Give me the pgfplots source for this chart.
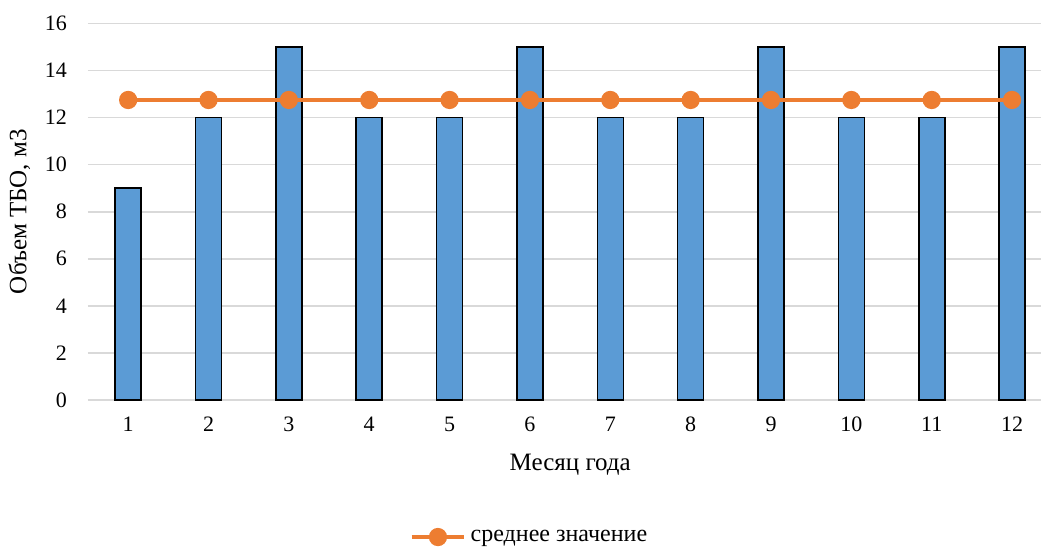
\documentclass[border=0pt]{standalone}
\usepackage{fontspec}
\setmainfont{Liberation Serif}
\usepackage{pgfplots}
\pgfplotsset{compat=1.18}
\definecolor{barblue}{HTML}{5B9BD5}
\definecolor{lineorange}{HTML}{ED7D31}
\definecolor{gridgray}{HTML}{D9D9D9}
\begin{document}
\begin{tikzpicture}
\useasboundingbox (0,0) rectangle (520.5pt,273.5pt);
\begin{axis}[
  at={(44pt,73.5pt)}, anchor=south west,
  scale only axis,
  width=476.5pt, height=188.25pt,
  xmin=0.5, xmax=12.36,
  ymin=0, ymax=16,
  xtick={1,...,12},
  ytick={0,2,...,16},
  major tick length=0pt,
  axis line style={draw=none},
  ymajorgrids,
  grid style={gridgray, line width=0.8pt},
  clip=false,
  tick label style={font=\fontsize{11}{13}\selectfont},
  /pgf/number format/assume math mode=true,
  yticklabel style={xshift=-7pt},
  xticklabel style={yshift=-5pt},
  xlabel={Месяц года},
  ylabel={Объем ТБО, м3},
  every axis x label/.style={at={(axis description cs:0.506,-0.173)}, anchor=center,
    font=\fontsize{12.5}{14}\selectfont},
  every axis y label/.style={at={(axis description cs:-0.072,0.5)}, anchor=center, rotate=90,
    font=\fontsize{12.5}{14}\selectfont},
  legend style={at={(axis description cs:0.464,-0.364)}, anchor=center, draw=none, fill=none,
    font=\fontsize{12}{14}\selectfont, inner sep=0pt},
  legend cell align=left,
  legend image code/.code={
    \draw[lineorange, line width=2.3pt] (0cm,0cm) -- (0.93cm,0cm);
    \fill[lineorange] (0.465cm,0cm) circle (3.4pt);
  },
]
\addplot[ybar, bar width=13pt, fill=barblue, draw=black, line width=0.8pt, forget plot]
  coordinates {(1,9) (2,12) (3,15) (4,12) (5,12) (6,15) (7,12) (8,12) (9,15) (10,12) (11,12) (12,15)};
\addplot[lineorange, line width=2.3pt, mark=*, mark size=3.4pt, mark options={fill=lineorange, draw=lineorange}]
  coordinates {(1,12.75) (2,12.75) (3,12.75) (4,12.75) (5,12.75) (6,12.75) (7,12.75) (8,12.75) (9,12.75) (10,12.75) (11,12.75) (12,12.75)};
\addlegendentry{среднее значение}
\end{axis}
\end{tikzpicture}
\end{document}
